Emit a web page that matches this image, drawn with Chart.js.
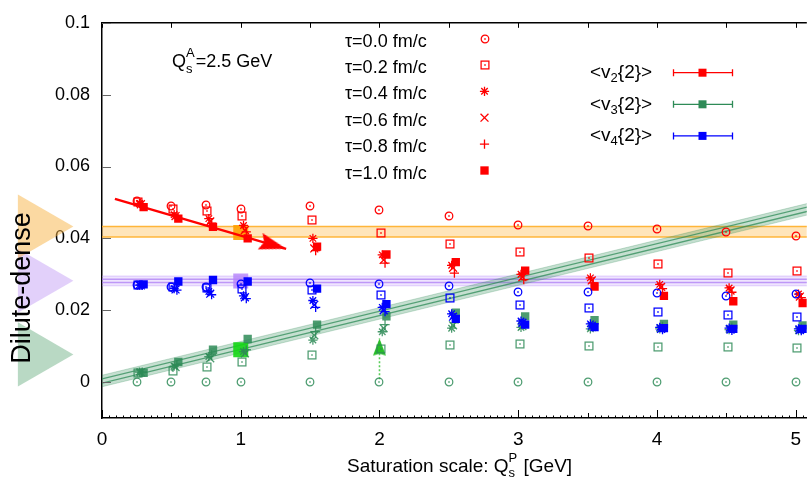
<!DOCTYPE html>
<html><head><meta charset="utf-8">
<script src="https://cdn.jsdelivr.net/npm/chart.js@4/dist/chart.umd.min.js"></script>
<style>html,body{margin:0;padding:0;background:#fff;overflow:hidden}#wrap{width:811px;height:483px}</style>
</head><body><div id="wrap"><canvas id="c" width="811" height="483"></canvas></div>
<script>
// ---------------- data ----------------
const qsP = [0.25, 0.5, 0.75, 1.0, 1.5, 2.0, 2.5, 3.0, 3.5, 4.0, 4.5, 5.0];
const tauLabels = ['τ=0.0 fm/c', 'τ=0.2 fm/c', 'τ=0.4 fm/c', 'τ=0.6 fm/c', 'τ=0.8 fm/c', 'τ=1.0 fm/c'];
const tauShift = [0, 0.01, 0.02, 0.03, 0.04, 0.05];

const v2_tau00 = [0.0505, 0.0491, 0.0494, 0.0482, 0.0490, 0.0480, 0.0461, 0.0438, 0.0435, 0.0427, 0.0418, 0.0407];
const v2_tau02 = [0.0500, 0.0482, 0.0476, 0.0462, 0.0450, 0.0414, 0.0384, 0.0363, 0.0345, 0.0330, 0.0304, 0.0310];
const v2_tau04 = [0.0497, 0.0466, 0.0455, 0.0436, 0.0400, 0.0354, 0.0325, 0.0300, 0.0290, 0.0272, 0.0262, 0.0245];
const v2_tau06 = [0.0495, 0.0462, 0.0447, 0.0423, 0.0372, 0.0340, 0.0318, 0.0292, 0.0283, 0.0265, 0.0255, 0.0238];
const v2_tau08 = [0.0493, 0.0460, 0.0442, 0.0418, 0.0366, 0.0331, 0.0303, 0.0285, 0.0276, 0.0260, 0.0250, 0.0235];
const v2_tau10 = [0.0487, 0.0455, 0.0432, 0.0400, 0.0377, 0.0355, 0.0334, 0.0310, 0.0266, 0.0240, 0.0225, 0.0220];

const v3_tau00 = [0, 0, 0, 0, 0, 0, 0, 0, 0, 0, 0, 0];
const v3_tau02 = [0.0026, 0.0030, 0.0041, 0.0055, 0.0076, 0.0092, 0.0103, 0.0105, 0.0101, 0.0099, 0.0098, 0.0095];
const v3_tau04 = [0.0028, 0.0044, 0.0071, 0.0085, 0.0117, 0.0140, 0.0150, 0.0152, 0.0148, 0.0148, 0.0146, 0.0143];
const v3_tau06 = [0.0027, 0.0042, 0.0066, 0.0080, 0.0130, 0.0150, 0.0158, 0.0156, 0.0153, 0.0150, 0.0148, 0.0146];
const v3_tau08 = [0.0028, 0.0048, 0.0076, 0.0090, 0.0140, 0.0160, 0.0165, 0.0160, 0.0158, 0.0155, 0.0153, 0.0150];
const v3_tau10 = [0.0026, 0.0056, 0.0090, 0.0120, 0.0160, 0.0183, 0.0193, 0.0183, 0.0172, 0.0162, 0.0160, 0.0158];

const v4_tau00 = [0.0270, 0.0266, 0.0266, 0.0272, 0.0275, 0.0272, 0.0268, 0.0252, 0.0252, 0.0247, 0.0240, 0.0245];
const v4_tau02 = [0.0270, 0.0266, 0.0262, 0.0258, 0.0257, 0.0242, 0.0233, 0.0215, 0.0206, 0.0195, 0.0187, 0.0180];
const v4_tau04 = [0.0270, 0.0260, 0.0252, 0.0240, 0.0227, 0.0208, 0.0190, 0.0170, 0.0162, 0.0152, 0.0150, 0.0148];
const v4_tau06 = [0.0269, 0.0258, 0.0246, 0.0236, 0.0215, 0.0200, 0.0182, 0.0165, 0.0157, 0.0148, 0.0146, 0.0145];
const v4_tau08 = [0.0269, 0.0256, 0.0243, 0.0232, 0.0208, 0.0196, 0.0178, 0.0162, 0.0154, 0.0146, 0.0144, 0.0143];
const v4_tau10 = [0.0272, 0.0280, 0.0284, 0.0280, 0.0260, 0.0217, 0.0176, 0.0160, 0.0153, 0.0150, 0.0148, 0.0148];

// dilute-dense reference bands (x end points and band edges)
const bandX = [0, 5.2];
const v2DdLo = [0.0404, 0.0404];
const v2DdHi = [0.0433, 0.0433];
const v4DdLo = [0.0268, 0.0268];
const v4DdHi = [0.0295, 0.0295];
const v4DdInLo = [0.0277, 0.0277];
const v4DdInHi = [0.0286, 0.0286];
const v3DdLo = [-0.0013, 0.0476];
const v3DdHi = [0.0019, 0.0508];
const v3DdInLo = [-0.0003, 0.0486];
const v3DdInHi = [0.0009, 0.0498];

// big reference squares at Qs=1
const refQ = [1.0];
const refV2 = [0.0416];
const refV3 = [0.0090];
const refV4 = [0.0281];

// dilute-dense markers on the left of the axis
const triQ = [-0.473];
const triV2 = [0.0433];
const triV4 = [0.0282];
const triV3 = [0.0077];

// arrows
const arrowV2Q = [0.093, 1.327];
const arrowV2V = [0.0510, 0.0371];
const arrowV3Q = [2.0, 2.0];
const arrowV3V = [0.0008, 0.0121];

const xTickValues = [0, 1, 2, 3, 4, 5];
const xTickLabels = ['0', '1', '2', '3', '4', '5'];
const yTickValues = [0, 0.02, 0.04, 0.06, 0.08, 0.1];
const yTickLabels = ['0', '0.02', '0.04', '0.06', '0.08', '0.1'];

// ---------------- styling ----------------
const FONT = '"Liberation Sans", Arial, Helvetica, sans-serif';
const RED = 'rgb(255,0,0)';
const GREEN = 'rgba(46,139,87,0.85)';
const BLUE = 'rgb(0,0,255)';
const N_DATA = 18;

function markerCanvas(kind, color) {
  const c = document.createElement('canvas');
  c.width = 12; c.height = 12;
  const g = c.getContext('2d');
  g.strokeStyle = color; g.fillStyle = color; g.lineWidth = 1.25;
  if (kind === 'circle') { g.beginPath(); g.arc(6, 6, 3.8, 0, Math.PI * 2); g.stroke(); }
  else { g.strokeRect(2.1, 2.1, 7.8, 7.8); }
  g.fillRect(5.25, 5.25, 1.5, 1.5);
  return c;
}
function arrowHead(color, len, half, notch) {
  const c = document.createElement('canvas');
  c.width = Math.ceil(len * 2) + 2; c.height = Math.ceil(half * 2) + 2;
  const g = c.getContext('2d');
  const cx = c.width / 2, cy = c.height / 2;
  g.fillStyle = color;
  g.beginPath();
  g.moveTo(cx, cy); g.lineTo(cx - len, cy - half); g.lineTo(cx - len + notch, cy); g.lineTo(cx - len, cy + half);
  g.closePath(); g.fill();
  return c;
}
function tauStyle(k, color) {
  switch (k) {
    case 0: return { ps: markerCanvas('circle', color), r: 4, bw: 0 };
    case 1: return { ps: markerCanvas('square', color), r: 4, bw: 0 };
    case 2: return { ps: 'star', r: 4.6, bw: 1.3 };
    case 3: return { ps: 'crossRot', r: 5.6, bw: 1.3 };
    case 4: return { ps: 'cross', r: 4.6, bw: 1.3 };
    default: return { ps: 'rect', r: 5.9, bw: 0 };
  }
}

const series = [
  { color: RED, vals: [v2_tau00, v2_tau02, v2_tau04, v2_tau06, v2_tau08, v2_tau10] },
  { color: GREEN, vals: [v3_tau00, v3_tau02, v3_tau04, v3_tau06, v3_tau08, v3_tau10] },
  { color: BLUE, vals: [v4_tau00, v4_tau02, v4_tau04, v4_tau06, v4_tau08, v4_tau10] }
];

const pts = (xs, ys) => xs.map((x, i) => ({ x, y: ys[i] }));

let dataSets = [];
series.forEach(s => {
  s.vals.forEach((vals, k) => {
    const st = tauStyle(k, s.color);
    dataSets.push({
      type: 'scatter',
      data: qsP.map((q, i) => ({ x: q + tauShift[k], y: vals[i] })),
      pointStyle: st.ps, pointRadius: st.r, pointBorderWidth: st.bw,
      pointBorderColor: s.color, pointBackgroundColor: s.color
    });
  });
});
dataSets.reverse(); // later series drawn on top

function arrowRotation(qs, vs) {
  return (ctx) => {
    const ch = ctx.chart, xs = ch.scales.x, ys = ch.scales.y;
    const dx = xs.getPixelForValue(qs[1]) - xs.getPixelForValue(qs[0]);
    const dy = ys.getPixelForValue(vs[1]) - ys.getPixelForValue(vs[0]);
    return Math.atan2(dy, dx) * 180 / Math.PI;
  };
}

const lineBase = { type: 'line', pointRadius: 0, tension: 0, fill: false };
const otherSets = [
  { ...lineBase, data: pts(arrowV2Q, arrowV2V), borderColor: RED, borderWidth: 2.4,
    pointRadius: [0, 8], pointStyle: arrowHead(RED, 27, 8.5, 4), pointRotation: arrowRotation(arrowV2Q, arrowV2V),
    pointBorderWidth: 0, pointBackgroundColor: RED },
  { ...lineBase, data: pts(arrowV3Q, arrowV3V), borderColor: 'rgba(70,200,70,0.9)', borderWidth: 1.6, borderDash: [2, 2],
    pointRadius: [0, 8], pointStyle: arrowHead('rgb(40,190,40)', 17, 6.5, 2), pointRotation: arrowRotation(arrowV3Q, arrowV3V),
    pointBorderWidth: 0 },
  { type: 'scatter', data: pts(refQ, refV2), pointStyle: 'rect', pointRadius: 10.6, pointBorderWidth: 0, pointBackgroundColor: 'rgba(255,160,0,0.9)' },
  { type: 'scatter', data: pts(refQ, refV4), pointStyle: 'rect', pointRadius: 10.6, pointBorderWidth: 0, pointBackgroundColor: 'rgba(180,130,250,0.8)' },
  { type: 'scatter', data: pts(refQ, refV3), pointStyle: 'rect', pointRadius: 10.6, pointBorderWidth: 0, pointBackgroundColor: 'rgba(20,215,20,0.9)' },
  // green (v3) band
  { ...lineBase, data: pts(bandX, v3DdInLo), borderColor: 'rgba(46,139,87,0.75)', borderWidth: 1.3 },
  { ...lineBase, data: pts(bandX, v3DdInHi), borderColor: 'rgba(46,139,87,0.75)', borderWidth: 1.3 },
  { ...lineBase, data: pts(bandX, v3DdLo), borderColor: 'rgba(46,139,87,0.25)', borderWidth: 1 },
  { ...lineBase, data: pts(bandX, v3DdHi), borderColor: 'rgba(46,139,87,0.25)', borderWidth: 1, fill: '-1', backgroundColor: 'rgba(46,139,87,0.28)' },
  // purple (v4) band
  { ...lineBase, data: pts(bandX, v4DdInLo), borderColor: 'rgba(170,120,245,0.7)', borderWidth: 1.5 },
  { ...lineBase, data: pts(bandX, v4DdInHi), borderColor: 'rgba(170,120,245,0.7)', borderWidth: 1.5 },
  { ...lineBase, data: pts(bandX, v4DdLo), borderColor: 'rgba(190,150,250,0.45)', borderWidth: 1 },
  { ...lineBase, data: pts(bandX, v4DdHi), borderColor: 'rgba(190,150,250,0.45)', borderWidth: 1, fill: '-1', backgroundColor: 'rgba(190,150,250,0.25)' },
  // orange (v2) band
  { ...lineBase, data: pts(bandX, v2DdLo), borderColor: 'rgba(255,175,40,0.9)', borderWidth: 1.6 },
  { ...lineBase, data: pts(bandX, v2DdHi), borderColor: 'rgba(255,175,40,0.9)', borderWidth: 1.6, fill: '-1', backgroundColor: 'rgba(255,175,40,0.32)' },
  // left triangles
  { type: 'scatter', clip: false, data: pts(triQ, triV2), pointStyle: 'triangle', pointRotation: 90, pointRadius: 37, pointHoverRadius: 90, pointBorderWidth: 0, pointBackgroundColor: 'rgba(248,180,70,0.5)' },
  { type: 'scatter', clip: false, data: pts(triQ, triV4), pointStyle: 'triangle', pointRotation: 90, pointRadius: 37, pointHoverRadius: 90, pointBorderWidth: 0, pointBackgroundColor: 'rgba(190,150,245,0.45)' },
  { type: 'scatter', clip: false, data: pts(triQ, triV3), pointStyle: 'triangle', pointRotation: 90, pointRadius: 37, pointHoverRadius: 90, pointBorderWidth: 0, pointBackgroundColor: 'rgba(100,170,125,0.45)' }
];

// ---------------- decorations ----------------
function rich(ctx, x, y, segs) {
  let cx = x;
  for (const s of segs) {
    ctx.font = `${s.size}px ${FONT}`;
    if (s.sup !== undefined) {
      const w1 = ctx.measureText(s.sup).width, w2 = ctx.measureText(s.sub).width;
      ctx.fillText(s.sup, cx, y - s.up);
      ctx.fillText(s.sub, cx, y + s.down);
      cx += Math.max(w1, w2) + 1;
    } else {
      ctx.fillText(s.t, cx, y + (s.dy || 0));
      cx += ctx.measureText(s.t).width;
    }
  }
  return cx;
}
function marker(ctx, style, x, y, color) {
  ctx.save();
  ctx.strokeStyle = color; ctx.fillStyle = color;
  if (typeof style.ps === 'object') {
    ctx.drawImage(style.ps, Math.round(x - style.ps.width / 2), Math.round(y - style.ps.height / 2));
  } else {
    ctx.lineWidth = style.bw;
    Chart.helpers.drawPoint(ctx, { pointStyle: style.ps, radius: style.r, rotation: 0, borderWidth: style.bw }, x, y);
  }
  ctx.restore();
}

const decor = {
  id: 'decor',
  beforeDatasetDraw(chart, args) {
    chart.ctx.imageSmoothingEnabled = args.index >= N_DATA;
  },
  afterDatasetsDraw(chart) {
    chart.ctx.imageSmoothingEnabled = true;
  },
  afterDraw(chart) {
    const ctx = chart.ctx, a = chart.chartArea, xs = chart.scales.x, ys = chart.scales.y;
    ctx.save();
    // top border
    ctx.strokeStyle = '#000'; ctx.lineWidth = 1.5;
    ctx.beginPath(); ctx.moveTo(a.left, a.top); ctx.lineTo(a.right, a.top); ctx.stroke();
    // x ticks (inward)
    ctx.lineWidth = 1;
    for (let i = 0; i <= 101; i++) {
      const v = i * 0.05;
      const px = Math.round(xs.getPixelForValue(v)) + 0.5;
      if (px > a.right) break;
      const L = i % 20 === 0 ? 8 : (i % 10 === 0 ? 5 : 2.5);
      ctx.beginPath(); ctx.moveTo(px, a.bottom); ctx.lineTo(px, a.bottom - L); ctx.stroke();
      if (i % 10 === 0) { ctx.beginPath(); ctx.moveTo(px, a.top); ctx.lineTo(px, a.top + 5); ctx.stroke(); }
    }
    // y ticks
    ctx.strokeStyle = '#666';
    for (const v of yTickValues) {
      const py = Math.round(ys.getPixelForValue(v)) + 0.5;
      ctx.beginPath(); ctx.moveTo(a.left, py); ctx.lineTo(a.left + 9, py); ctx.stroke();
    }
    ctx.fillStyle = '#000';
    ctx.textBaseline = 'alphabetic'; ctx.textAlign = 'left';
    // Qs^A annotation
    rich(ctx, 172, 67, [{ t: 'Q', size: 18 }, { sup: 'A', sub: 's', size: 13, up: 10, down: 6 }, { t: '=2.5 GeV', size: 18 }]);
    // tau legend
    tauLabels.forEach((lab, k) => {
      const yc = 40 + k * 26.4;
      ctx.fillStyle = '#000';
      ctx.font = `18px ${FONT}`;
      ctx.fillText(lab, 345, yc + 6.6);
      marker(ctx, tauStyle(k, RED), 484.5, yc - 1.5, RED);
    });
    // v_n legend
    const vn = [['2', RED], ['3', 'rgb(46,139,87)'], ['4', BLUE]];
    vn.forEach(([n, col], i) => {
      const yl = 72.7 + i * 31.6;
      ctx.fillStyle = '#000';
      rich(ctx, 590, yl + 5.5, [{ t: '<v', size: 19 }, { t: n, size: 13, dy: 4 }, { t: '{2}>', size: 19 }]);
      ctx.strokeStyle = col; ctx.lineWidth = 1.3;
      ctx.beginPath(); ctx.moveTo(673.5, yl); ctx.lineTo(732.5, yl);
      ctx.moveTo(673.5, yl - 3.5); ctx.lineTo(673.5, yl + 3.5);
      ctx.moveTo(732.5, yl - 3.5); ctx.lineTo(732.5, yl + 3.5); ctx.stroke();
      ctx.fillStyle = col; ctx.fillRect(698.5, yl - 4, 8, 8);
    });
    // x axis title
    ctx.fillStyle = '#000';
    rich(ctx, 347, 472, [{ t: 'Saturation scale: Q', size: 19 }, { sup: 'P', sub: 's', size: 13, up: 10, down: 5 }, { t: ' [GeV]', size: 19 }]);
    // y axis title
    ctx.save();
    ctx.translate(23, 288); ctx.rotate(-Math.PI / 2);
    ctx.textAlign = 'center'; ctx.textBaseline = 'middle';
    ctx.font = `27px ${FONT}`;
    ctx.fillText('Dilute-dense', 0, 0);
    ctx.restore();
    ctx.restore();
  }
};

new Chart(document.getElementById('c'), {
  type: 'scatter',
  data: { datasets: dataSets.concat(otherSets) },
  options: {
    responsive: false, animation: false, events: [], devicePixelRatio: 1,
    layout: { autoPadding: false, padding: { top: 16, left: 0, right: 0, bottom: 0 } },
    plugins: { legend: { display: false }, tooltip: { enabled: false } },
    scales: {
      x: {
        type: 'linear', min: 0, max: 5.08,
        afterBuildTicks: s => { s.ticks = xTickValues.map(v => ({ value: v })); },
        afterFit: s => { s.height = 65; },
        ticks: { font: { size: 19, family: FONT }, color: '#000', padding: 10, maxRotation: 0, autoSkip: false,
                 callback: (v, i) => xTickLabels[i] },
        grid: { display: false, drawTicks: false },
        border: { display: true, color: '#000', width: 1.5 }
      },
      y: {
        type: 'linear', min: -0.01, max: 0.1,
        afterBuildTicks: s => { s.ticks = yTickValues.map(v => ({ value: v })); },
        afterFit: s => { s.width = 102; },
        ticks: { font: { size: 18, family: FONT }, color: '#000', padding: 12, autoSkip: false,
                 callback: (v, i) => yTickLabels[i] },
        grid: { display: false, drawTicks: false },
        border: { display: true, color: '#000', width: 1.5 }
      }
    }
  },
  plugins: [decor]
});
</script></body></html>
